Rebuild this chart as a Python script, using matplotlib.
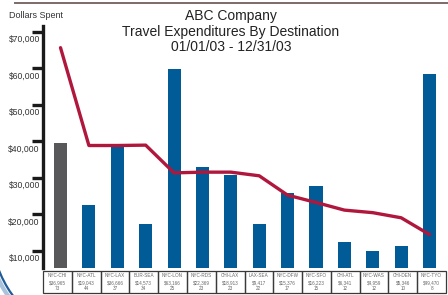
import matplotlib
matplotlib.use("Agg")
import matplotlib.pyplot as plt
from matplotlib.patches import Rectangle, Arc
from matplotlib.lines import Line2D
from matplotlib.transforms import ScaledTranslation, IdentityTransform, blended_transform_factory

plt.rcParams["font.family"] = ["Liberation Sans", "DejaVu Sans"]

# dados
routes = ["NYC-CHI", "NYC-ATL", "NYC-LAX", "BUR-SEA", "NYC-LON", "NYC-RDS", "CHI-LAX",
          "LAX-SEA", "NYC-DFW", "NYC-SFO", "CHI-ATL", "NYC-WAS", "CHI-DEN", "NYC-TYO"]
amount_labels = ["$36,965", "$19,043", "$36,666", "$14,573", "$63,166", "$22,369", "$18,913",
                 "$9,417", "$15,376", "$16,223", "$6,341", "$4,959", "$5,346", "$49,470"]
trip_counts = [73, 44, 37, 34, 25, 23, 23, 22, 17, 15, 12, 12, 10, 8]
bar_values = [39500, 22500, 38600, 17500, 59900, 33100, 30700,
              17300, 26000, 27900, 12600, 9900, 11300, 58500]
line_values = [65700, 38900, 38900, 39000, 31400, 31600, 31600,
               30600, 25300, 23300, 21200, 20500, 19100, 14500]
ytick_values = [10000, 20000, 30000, 40000, 50000, 60000, 70000]
ytick_labels = ["$10,000", "$20,000", "$30,000", "$40,000", "$50,000", "$60,000", "$70,000"]

W, H = 448, 295
fig = plt.figure(figsize=(W / 100, H / 100), dpi=100)
ax = fig.add_axes([43 / W, 27 / H, 403 / W, 242 / H])

x = list(range(len(routes)))
bar_colors = ["#58585b"] + ["#005b96"] * (len(routes) - 1)
ax.bar(x, bar_values, width=0.46, color=bar_colors, zorder=2)
ax.plot(x, line_values, color="#b0173c", lw=2.4, zorder=3, solid_capstyle="round",
        solid_joinstyle="round")

x0, x1 = -0.617, 13.58
ax.set_xlim(x0, x1)
ax.set_ylim(5340, 71640)

for s in ["top", "right", "bottom"]:
    ax.spines[s].set_visible(False)
ax.spines["left"].set_linewidth(2.4)
ax.spines["left"].set_color("#1a1a1a")
ax.set_xticks([])
ax.set_yticks(ytick_values)
ax.set_yticklabels(ytick_labels, fontsize=6.2, color="#333333")
ax.tick_params(axis="y", direction="out", length=8, width=2.4, color="#1a1a1a", pad=0)
off = ScaledTranslation(0.08, -0.065, fig.dpi_scale_trans)
for lab in ax.get_yticklabels():
    lab.set_transform(lab.get_transform() + off)

# tabela sob as barras
trans = blended_transform_factory(ax.transData, ax.transAxes)
cw = (x1 - x0) / len(routes)
top, bot = -3 / 242, -25 / 242
for i, r in enumerate(routes):
    left = x0 + i * cw
    ax.add_patch(Rectangle((left, bot), cw, top - bot, transform=trans, fill=False,
                           edgecolor="#3a3a3a", lw=0.9, clip_on=False))
    cx = left + cw / 2
    ax.text(cx, -7.5 / 242, r, transform=trans, ha="center", va="center",
            fontsize=3.3, color="#666666")
    ax.text(cx, -14.5 / 242, amount_labels[i], transform=trans, ha="center", va="center",
            fontsize=3.3, color="#666666")
    ax.text(cx, -20.5 / 242, str(trip_counts[i]), transform=trans, ha="center", va="center",
            fontsize=3.3, color="#666666")

# títulos
fig.text(231 / W, 1 - 16 / H, "ABC Company", ha="center", va="center", fontsize=10, color="#222222")
fig.text(231 / W, 1 - 32 / H, "Travel Expenditures By Destination", ha="center", va="center",
         fontsize=10, color="#222222")
fig.text(231 / W, 1 - 47 / H, "01/01/03 - 12/31/03", ha="center", va="center",
         fontsize=10, color="#222222")
fig.text(9 / W, 1 - 16 / H, "Dollars Spent", ha="left", va="center", fontsize=6.5, color="#333333")

# enfeites
fig.add_artist(Line2D([15 / W, 1], [1 - 3 / H, 1 - 3 / H], color="#7c6a68", lw=1.4))
fig.add_artist(Arc((101.5, 64.5), 228, 228, theta1=195, theta2=228, color="#a9c3dc", lw=3,
                   transform=IdentityTransform()))
fig.add_artist(Arc((101.5, 64.5), 220, 220, theta1=195, theta2=228, color="#1f5c99", lw=1.6,
                   transform=IdentityTransform()))

fig.savefig("out.png", dpi=100)
